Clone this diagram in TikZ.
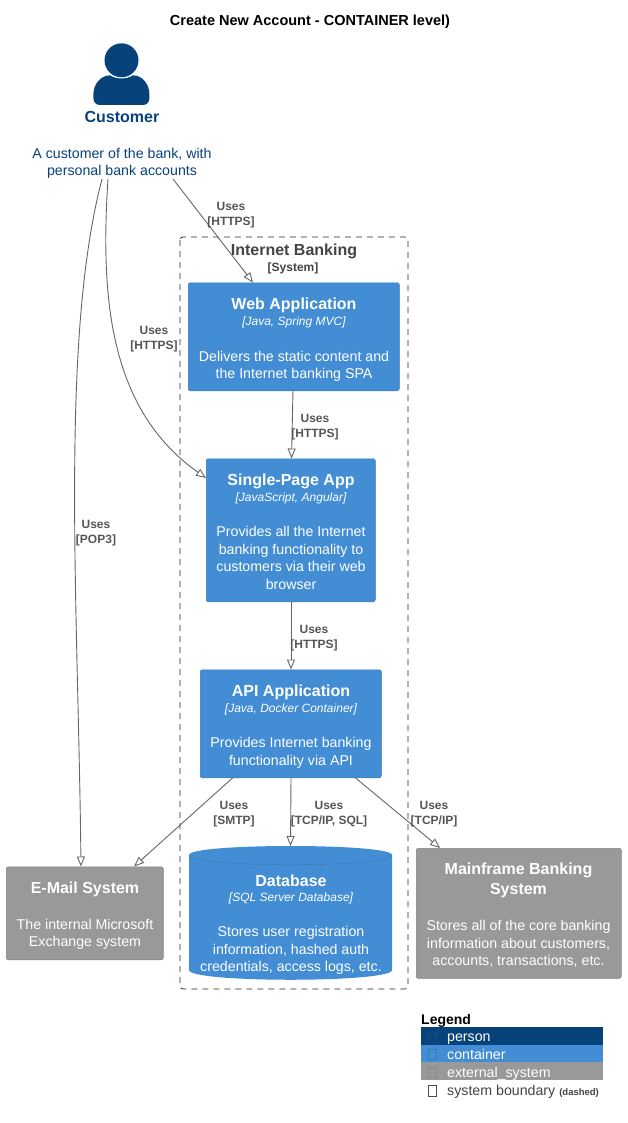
\documentclass[tikz,border=0pt]{standalone}
\usepackage{fontspec}
\setmainfont{Liberation Sans}
\usetikzlibrary{arrows.meta,shapes.geometric}
\definecolor{personc}{HTML}{08427B}
\definecolor{contc}{HTML}{438DD5}
\definecolor{extc}{HTML}{999999}
\definecolor{linec}{HTML}{666666}
\definecolor{labc}{HTML}{555555}
\definecolor{bndc}{HTML}{444444}
\tikzset{
 boxst/.style={rectangle,rounded corners=2pt,draw=#1!85!black,line width=.5pt,fill=#1,text=white,align=center,inner sep=0pt,anchor=north west},
 namest/.style={font=\fontsize{16}{20}\selectfont\bfseries,text=white,anchor=center,inner sep=0pt,align=center},
 techst/.style={font=\fontsize{12}{15}\selectfont\itshape,text=white,anchor=center,inner sep=0pt},
 descrst/.style={font=\fontsize{14.2}{17.6}\selectfont,text=white,align=center,anchor=center,inner sep=0pt},
 labst/.style={font=\fontsize{12}{15}\selectfont\bfseries,text=labc,align=center,anchor=center,inner sep=0pt},
 relst/.style={draw=linec,line width=.9pt,-{Triangle[open,length=10pt,width=8pt,fill=white]}},
 legst/.style={font=\fontsize{14.2}{17}\selectfont,anchor=west,inner sep=0pt},
}
\begin{document}
\begin{tikzpicture}[x=1pt,y=-1pt]
\useasboundingbox (0,0) rectangle (627,1123);
\node[inner sep=0pt,font=\fontsize{14.5}{17}\selectfont\bfseries] (title) at (310,22) {Create New Account - CONTAINER level)};
% person
\fill[personc] (121.5,60.3) circle (17);
\fill[personc] (100,105) .. controls (96,105) and (93.4,102) .. (93.4,98) -- (93.4,94) .. controls (93.4,84) and (101,75.3) .. (110,75.3) .. controls (116,79.5) and (127,79.5) .. (133,75.3) .. controls (142,75.3) and (149.4,84) .. (149.4,94) -- (149.4,98) .. controls (149.4,102) and (147,105) .. (143,105) -- cycle;
\node[inner sep=0pt,font=\fontsize{16}{20}\selectfont\bfseries,text=personc] (custname) at (122,116.5) {Customer};
\node[inner sep=0pt,font=\fontsize{14.2}{17.6}\selectfont,text=personc,align=center] (custdesc) at (122,163.5) {A customer of the bank, with\\personal bank accounts};
% boundary
\draw[dash pattern=on 6pt off 5pt,draw=black!85,line width=.8pt,rounded corners=3pt] (180,237) rectangle (408,989);
\node[inner sep=0pt,font=\fontsize{16}{20}\selectfont\bfseries,text=bndc] (bname) at (294,251.5) {Internet Banking};
\node[inner sep=0pt,font=\fontsize{12}{15}\selectfont\bfseries,text=bndc] (bsys) at (293,268) {[System]};
% web
\node[boxst=contc,minimum width=211pt,minimum height=108pt] (web) at (188,282.5) {};
\node[namest] (webn) at (294,305.5) {Web Application};
\node[techst] (webt) at (294,322) {[Java, Spring MVC]};
\node[descrst] (webd) at (294,366.5) {Delivers the static content and\\the Internet banking SPA};
% spa
\node[boxst=contc,minimum width=169pt,minimum height=143pt] (spa) at (206,458.5) {};
\node[namest] (span) at (291,481.5) {Single-Page App};
\node[techst] (spat) at (291,498) {[JavaScript, Angular]};
\node[descrst] (spad) at (291,558) {Provides all the Internet\\banking functionality to\\customers via their web\\browser};
% api
\node[boxst=contc,minimum width=181pt,minimum height=108pt] (api) at (200,669.5) {};
\node[namest] (apin) at (291,692.5) {API Application};
\node[techst] (apit) at (291,709) {[Java, Docker Container]};
\node[descrst] (apid) at (291,753) {Provides Internet banking\\functionality via API};
% db
\fill[contc] (189,855) .. controls (189,843) and (392,843) .. (392,855) -- (392,970) .. controls (392,983) and (189,983) .. (189,970) -- cycle;
\draw[contc!85!black,line width=.4pt] (189,855) .. controls (189,868) and (392,868) .. (392,855);
\coordinate (db) at (290.5,846);
\node[namest] (dbn) at (291,880.5) {Database};
\node[techst] (dbt) at (291,898.5) {[SQL Server Database]};
\node[descrst] (dbd) at (291,950.5) {Stores user registration\\information, hashed auth\\credentials, access logs, etc.};
% mail
\node[boxst=extc,minimum width=157pt,minimum height=93pt] (mail) at (6,866.5) {};
\node[namest] (mailn) at (85,889) {E-Mail System};
\node[descrst] (maild) at (85,934.5) {The internal Microsoft\\Exchange system};
% mainframe
\node[boxst=extc,minimum width=205pt,minimum height=130pt] (main) at (416,848) {};
\node[namest] (mainn) at (518.5,880) {Mainframe Banking\\System};
\node[descrst] (maind) at (518.5,944) {Stores all of the core banking\\information about customers,\\accounts, transactions, etc.};
% connectors
\coordinate (c1s) at (173,179);
\coordinate (c2s) at (108,179);
\coordinate (c3s) at (102,179);
\coordinate (c1e) at (253,282.5);
\coordinate (c2e) at (206,478);
\coordinate (c3e) at (81,866.5);
\coordinate (c4s) at (293,390.5);
\coordinate (c4e) at (291.5,458.5);
\coordinate (c5s) at (291,601.5);
\coordinate (c5e) at (291,669.5);
\coordinate (c6s) at (291,777.5);
\coordinate (c7s) at (233,777.5);
\coordinate (c7e) at (134,866.5);
\coordinate (c8s) at (355,777.5);
\coordinate (c8e) at (440,848);
\draw[relst] (c1s) -- (c1e);
\draw[relst] (c2s) .. controls (100,300) and (110,410) .. (c2e);
\draw[relst] (c3s) .. controls (60,340) and (78,600) .. (c3e);
\draw[relst] (c4s) -- (c4e);
\draw[relst] (c5s) -- (c5e);
\draw[relst] (c6s) -- (db);
\draw[relst] (c7s) -- (c7e);
\draw[relst] (c8s) -- (c8e);
\node[labst] (l1) at (231,215.5) {Uses\\{[HTTPS]}};
\node[labst] (l2) at (154,339) {Uses\\{[HTTPS]}};
\node[labst] (l3) at (96,533) {Uses\\{[POP3]}};
\node[labst] (l4) at (315,427.5) {Uses\\{[HTTPS]}};
\node[labst] (l5) at (314,638.5) {Uses\\{[HTTPS]}};
\node[labst] (l6) at (234,814) {Uses\\{[SMTP]}};
\node[labst] (l7) at (329,814) {Uses\\{[TCP/IP, SQL]}};
\node[labst] (l8) at (434,814) {Uses\\{[TCP/IP]}};
% legend
\node[inner sep=0pt,anchor=west,font=\fontsize{14}{17}\selectfont\bfseries] (legt) at (421,1020.5) {Legend};
\fill[personc] (421,1027) rectangle (603,1044.5);
\fill[contc] (421,1044.5) rectangle (603,1062);
\fill[extc] (421,1062) rectangle (603,1080);
\draw[personc!85!contc,line width=.5pt] (428,1032) rectangle (436,1042);
\draw[contc!85!black,line width=.5pt] (428,1049) rectangle (436,1059);
\draw[extc!90!black,line width=.5pt] (428,1067) rectangle (436,1077);
\draw[black!70,line width=.7pt] (428,1085.5) rectangle (436,1096);
\node[legst,text=white] (lg1) at (447,1039) {person};
\node[legst,text=white] (lg2) at (447,1054) {container};
\node[legst,text=white] (lg3) at (447,1073.5) {external\_system};
\node[legst,text=bndc] (lg4) at (447,1091.5) {system boundary \fontsize{9.5}{12}\selectfont\bfseries (dashed)};
\end{tikzpicture}
\end{document}
